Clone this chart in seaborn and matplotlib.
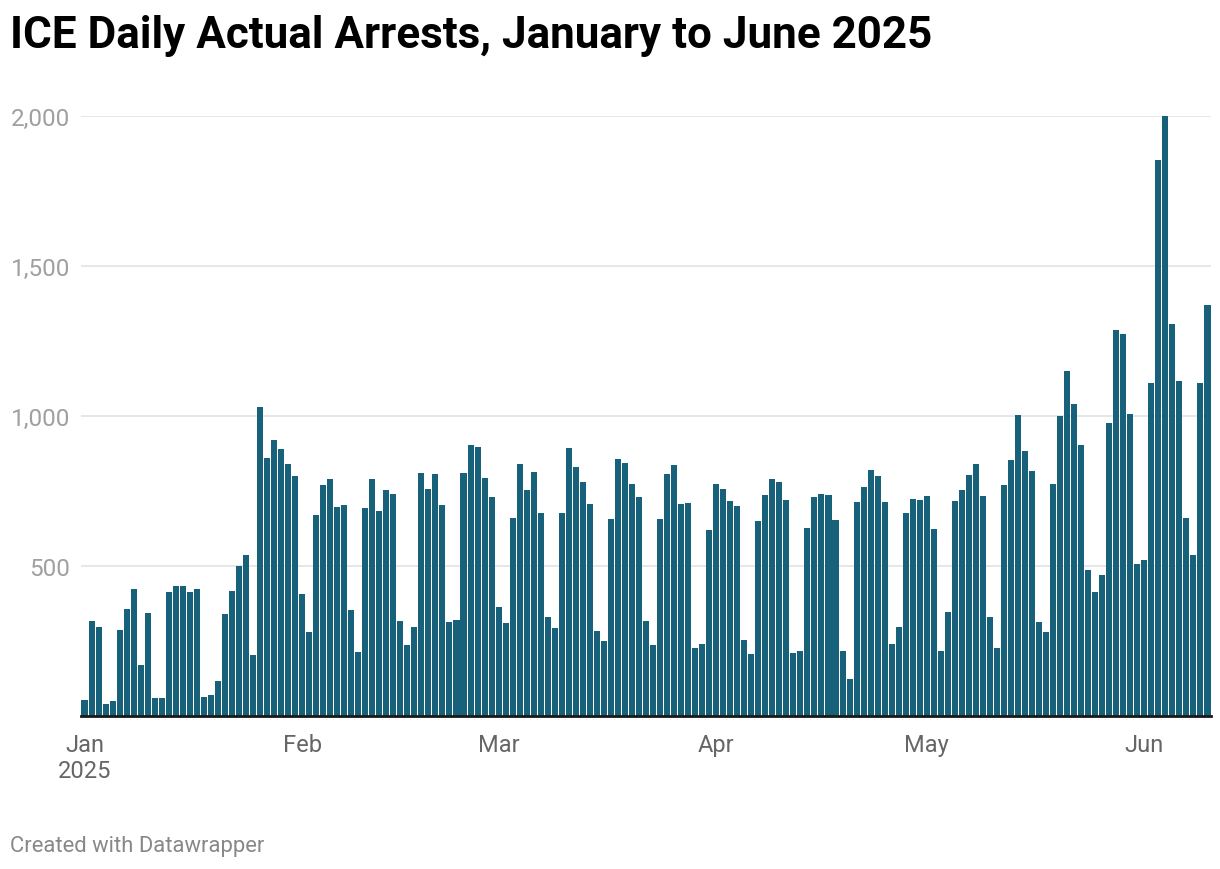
import matplotlib
matplotlib.use("Agg")
from matplotlib import pyplot as plt
import numpy as np
import pandas as pd
import seaborn as sns

# daily arrests (Jan 1 - Jun 10, 2025)
jan = [54, 318, 298, 40, 50, 288, 358, 422, 171, 345,
       60, 60, 415, 432, 435, 412, 422, 64, 70, 117,
       341, 418, 499, 536, 204, 1031, 860, 921, 891, 840, 800]
feb = [408, 281, 670, 770, 790, 696, 703, 355, 214, 693,
       790, 683, 753, 740, 318, 238, 298, 810, 757, 807,
       703, 315, 321, 810, 904, 897, 793, 730]
mar = [365, 311, 660, 840, 753, 814, 676, 331, 295, 676,
       894, 830, 780, 706, 285, 251, 656, 857, 844, 773,
       730, 318, 238, 656, 807, 837, 706, 710, 228, 241, 619]
apr = [773, 757, 716, 700, 254, 208, 650, 737, 790, 780,
       720, 211, 218, 626, 730, 740, 737, 653, 218, 124,
       713, 763, 820, 800, 713, 241, 298, 676, 723, 720]
may = [733, 623, 218, 348, 716, 753, 804, 840, 733, 331,
       228, 770, 854, 1004, 884, 817, 315, 281, 773, 1000,
       1151, 1040, 903, 488, 415, 471, 976, 1287, 1273, 1007, 508]
jun = [521, 1111, 1852, 2000, 1308, 1117, 659, 536, 1111, 1371]

month_labels = ["Jan\n2025", "Feb", "Mar", "Apr", "May", "Jun"]
y_ticks = [500, 1000, 1500, 2000]

arrests = jan + feb + mar + apr + may + jun
dates = pd.date_range("2025-01-01", periods=len(arrests), freq="D")
df = pd.DataFrame({"day": np.arange(len(arrests)), "arrests": arrests})

sns.set_theme(style="white")
plt.rcParams["font.family"] = ["Roboto", "DejaVu Sans"]

fig = plt.figure(figsize=(12.2, 8.7), dpi=100)
ax = fig.add_axes([81 / 1220, 1 - 717 / 870, 1130 / 1220, 600 / 870])

bar_color = "#17617a"
sns.barplot(data=df, x="day", y="arrests", color=bar_color, saturation=1,
            width=0.86, linewidth=0, ax=ax)

ax.set_xlim(-0.5, len(arrests) - 0.5)
ax.set_ylim(0, 2000)

# month ticks at the first day of each month
month_pos = [i for i, d in enumerate(dates) if d.day == 1]
ax.set_xticks(month_pos)
ax.set_xticklabels(month_labels, fontsize=17, color="#666666", linespacing=1.2)
ax.set_yticks(y_ticks)
ax.set_yticklabels([f"{v:,}" for v in y_ticks], fontsize=17.5, color="#a0a0a0")
ax.tick_params(axis="x", length=0, pad=12)
ax.tick_params(axis="y", length=0, pad=8)

ax.set_axisbelow(True)
ax.yaxis.grid(True, color="#e3e3e3", linewidth=1.2)
ax.xaxis.grid(False)
for s in ["top", "right", "left"]:
    ax.spines[s].set_visible(False)
ax.spines["bottom"].set_color("#1a1a1a")
ax.spines["bottom"].set_linewidth(2)
ax.set_xlabel("")
ax.set_ylabel("")

fig.text(10 / 1220, 1 - 36 / 870, "ICE Daily Actual Arrests, January to June 2025",
         fontsize=31.7, fontweight="bold", color="#000000", va="center", ha="left")
fig.text(10 / 1220, 1 - 847 / 870, "Created with Datawrapper",
         fontsize=15.8, color="#888888", va="center", ha="left")

fig.savefig("out.png", dpi=100)
